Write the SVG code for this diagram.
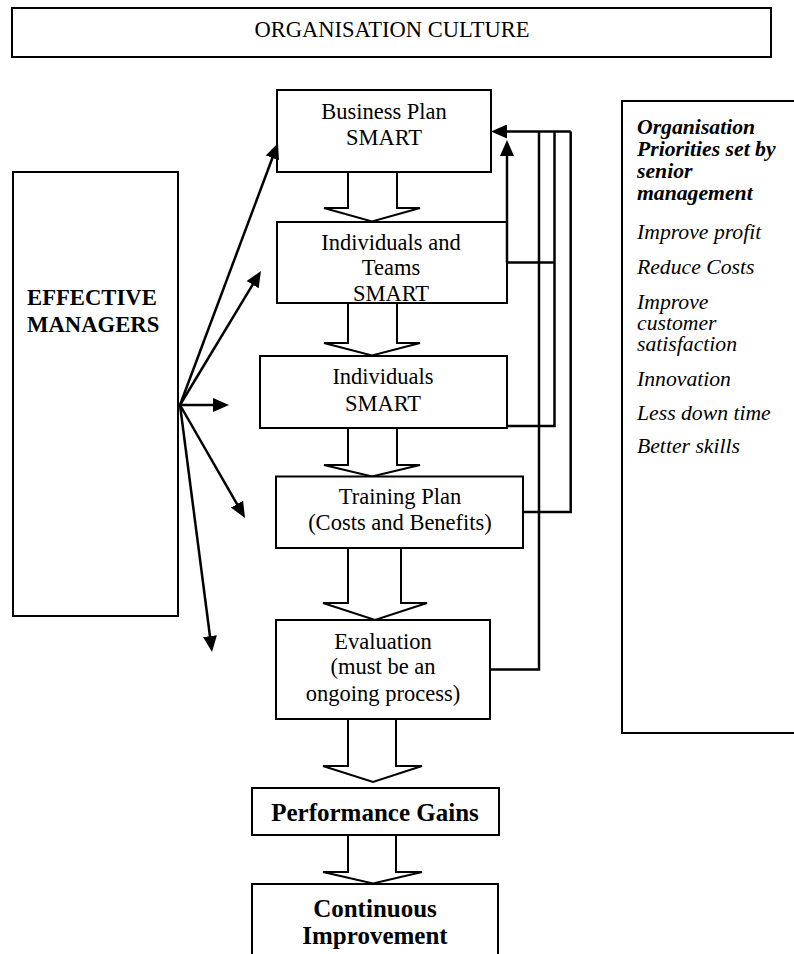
<svg xmlns="http://www.w3.org/2000/svg" width="794" height="954" viewBox="0 0 794 954">
<style>
.box{fill:#fff;stroke:#000;stroke-width:2}
.blk{fill:#fff;stroke:#000;stroke-width:2;stroke-linejoin:miter}
.ln{fill:none;stroke:#000;stroke-width:2.5}
text{font-family:"Liberation Serif","Times New Roman",serif;fill:#000}
.t{font-size:22.5px;text-anchor:middle}
.b{font-size:22.7px;font-weight:bold}
.bb{font-size:25px;font-weight:bold;text-anchor:middle}
.bi{font-size:21.7px;font-weight:bold;font-style:italic}
.i{font-size:21.7px;font-style:italic}
</style>
<defs>
<marker id="ah" markerUnits="userSpaceOnUse" markerWidth="16" markerHeight="14" refX="12" refY="7" orient="auto" viewBox="0 0 16 14">
<path d="M0,0 L16,7 L0,14 z" fill="#000"/>
</marker>
<clipPath id="clipIT"><rect x="278" y="223" width="228" height="78.5"/></clipPath>
</defs>
<rect width="794" height="954" fill="#fff"/>

<g id="culture">
<rect class="box" x="12" y="8" width="759" height="49"/>
<text class="t" x="392" y="36.5">ORGANISATION CULTURE</text>
</g>

<g id="managers">
<rect class="box" x="13" y="172" width="165" height="444"/>
<text class="b" x="27" y="305">EFFECTIVE</text>
<text class="b" x="27" y="332">MANAGERS</text>
</g>

<g id="priorities">
<rect class="box" x="622" y="101" width="200" height="632"/>
<text class="bi" x="637" y="134">Organisation</text>
<text class="bi" x="637" y="156">Priorities set by</text>
<text class="bi" x="637" y="178">senior</text>
<text class="bi" x="637" y="199.5">management</text>
<text class="i" x="637" y="239">Improve profit</text>
<text class="i" x="637" y="274">Reduce Costs</text>
<text class="i" x="637" y="309">Improve</text>
<text class="i" x="637" y="330">customer</text>
<text class="i" x="637" y="351">satisfaction</text>
<text class="i" x="637" y="386">Innovation</text>
<text class="i" x="637" y="419.5">Less down time</text>
<text class="i" x="637" y="453">Better skills</text>
</g>

<g id="flow-arrows">
<path class="blk" d="M348,172 V208 H324 L372,221.5 L420,208 H397 V172"/>
<path class="blk" d="M348,303 V343 H324 L372,355.5 L420,343 H397 V303"/>
<path class="blk" d="M348,428 V465 H324 L372,476.5 L420,465 H397 V428"/>
<path class="blk" d="M348,548 V603 H323 L375,620 L427,603 H401 V548"/>
<path class="blk" d="M348,719 V766 H323 L373,782 L422,766 H396 V719"/>
<path class="blk" d="M348,835 V872 H323 L373,883.5 L422,872 H396 V835"/>
</g>

<g id="business-plan">
<rect class="box" x="277" y="90" width="214" height="82"/>
<text class="t" x="384" y="119">Business Plan</text>
<text class="t" x="384" y="145">SMART</text>
</g>

<g id="individuals-teams">
<rect class="box" x="277" y="222" width="230" height="81"/>
<g clip-path="url(#clipIT)">
<text class="t" x="391" y="250">Individuals and</text>
<text class="t" x="391" y="275">Teams</text>
<text class="t" x="391" y="300.5">SMART</text>
</g>
</g>

<g id="individuals">
<rect class="box" x="260" y="356" width="247" height="72"/>
<text class="t" x="383" y="384">Individuals</text>
<text class="t" x="383" y="411">SMART</text>
</g>

<g id="training-plan">
<rect class="box" x="276" y="476.5" width="247" height="71.5"/>
<text class="t" x="400" y="504">Training Plan</text>
<text class="t" x="400" y="530">(Costs and Benefits)</text>
</g>

<g id="evaluation">
<rect class="box" x="276" y="620" width="214" height="99"/>
<text class="t" x="383" y="649">Evaluation</text>
<text class="t" x="383" y="674">(must be an</text>
<text class="t" x="383" y="701">ongoing process)</text>
</g>

<g id="performance-gains">
<rect class="box" x="252" y="788" width="247" height="47"/>
<text class="bb" x="375" y="821">Performance Gains</text>
</g>

<g id="continuous-improvement">
<rect class="box" x="252" y="884" width="246" height="80"/>
<text class="bb" x="375" y="917">Continuous</text>
<text class="bb" x="375" y="944">Improvement</text>
</g>

<g id="connectors">
<line class="ln" x1="180" y1="405" x2="276.6" y2="146.7" marker-end="url(#ah)"/>
<line class="ln" x1="180" y1="405" x2="258.9" y2="274.4" marker-end="url(#ah)"/>
<line class="ln" x1="180" y1="405" x2="225" y2="405" marker-end="url(#ah)"/>
<line class="ln" x1="180" y1="405" x2="243" y2="514.5" marker-end="url(#ah)"/>
<line class="ln" x1="180" y1="405" x2="211.5" y2="648" marker-end="url(#ah)"/>
<path class="ln" d="M570.7,131.5 H495" marker-end="url(#ah)"/>
<path class="ln" d="M507,262.5 V144" marker-end="url(#ah)"/>
<path class="ln" d="M507,262.5 H554.5"/>
<path class="ln" d="M523,512 H570.7 V131.5"/>
<path class="ln" d="M507,426 H554.5 V131.5"/>
<path class="ln" d="M490,669.5 H539 V131.5"/>
</g>
</svg>
